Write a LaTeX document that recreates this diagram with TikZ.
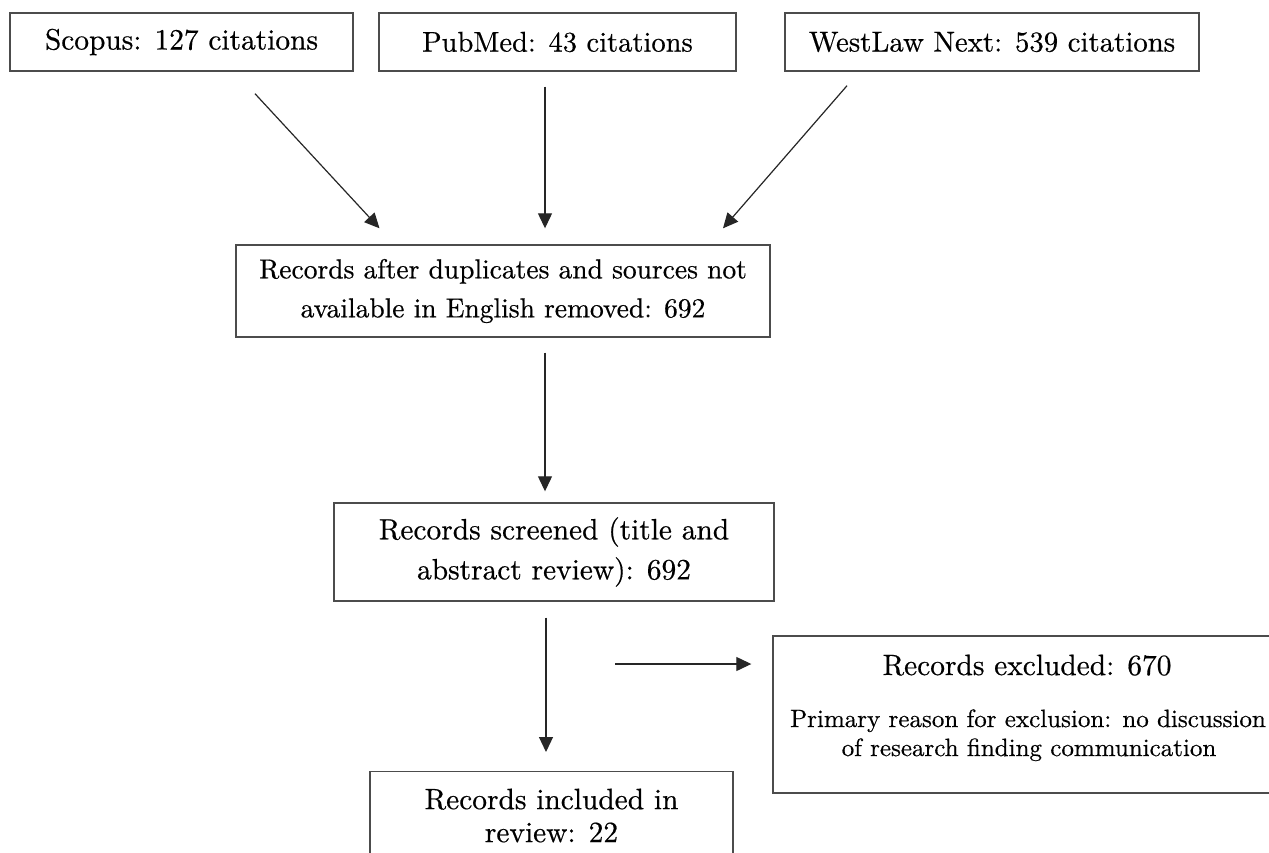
\documentclass[tikz,border=0pt]{standalone}
\usepackage{fontspec}
\setmainfont{lmroman10-regular}[Extension=.otf,FakeBold=0.5]
\usetikzlibrary{arrows.meta,calc}
\begin{document}
\begin{tikzpicture}[x=1pt,y=-1pt,
  box/.style={draw=black!70,line width=1.4pt,inner sep=0pt,align=center,
    font=\fontsize{29.4}{40}\selectfont},
  conn/.style={draw=black!85,line width=1.2pt,-{Triangle[length=15pt,width=14pt]}},
  small/.style={inner sep=0pt,font=\fontsize{25}{29}\selectfont,anchor=base}]
\clip (0,0) rectangle (1269,852);
\fill[white] (0,0) rectangle (1269,852);
% top boxes
\node[box,minimum width=343pt,minimum height=58pt] (scopus) at (181.5,42) {Scopus: 127 citations};
\node[box,minimum width=357pt,minimum height=58pt,font=\fontsize{28.5}{40}\selectfont] (pubmed) at (557.5,42) {PubMed: 43 citations};
\node[box,minimum width=414pt,minimum height=58pt,font=\fontsize{28.8}{40}\selectfont] (westlaw) at (992,42) {WestLaw Next: 539 citations};
% records after
\node[box,minimum width=534pt,minimum height=92pt,font=\fontsize{27.5}{39}\selectfont] (after) at (503,291)
  {Records after duplicates and sources not\\available in English removed: 692};
% screened
\node[box,minimum width=440pt,minimum height=98pt] (screened) at (554,552)
  {Records screened (title and\\abstract review): 692};
% excluded
\node[draw=black!70,line width=1.4pt,minimum width=510pt,minimum height=157pt,inner sep=0pt] (excl) at (1028,714.5) {};
\node[inner sep=0pt,anchor=base,font=\fontsize{29.4}{40}\selectfont] (exh) at (1027,675) {Records excluded: 670};
\node[small] (ex1) at (1028,727) {Primary reason for exclusion: no discussion};
\node[small] (ex2) at (1029,756) {of research finding communication};
% included
\node[box,anchor=north,minimum width=363pt,inner ysep=17pt,font=\fontsize{29.4}{33}\selectfont] (incl) at (551.5,771)
  {Records included in\\review: 22};
% connectors
\draw[conn] ($(scopus.south)+(73.5,22)$) -- ($(after.north)+(-123.5,-16)$);
\draw[conn] ($(pubmed.south)+(-12.5,15)$) -- ($(after.north)+(42,-16)$);
\draw[conn] ($(westlaw.south)+(-145,14)$) -- ($(after.north)+(220,-16)$);
\draw[conn] ($(after.south)+(42,15)$) -- ($(screened.north)+(-9,-11)$);
\draw[conn] ($(screened.south)+(-8,16)$) -- ($(incl.north)+(-5.5,-19)$);
\draw[conn] ($(excl.west)+(-157,-50.5)$) -- ($(excl.west)+(-21,-50.5)$);
\end{tikzpicture}
\end{document}
